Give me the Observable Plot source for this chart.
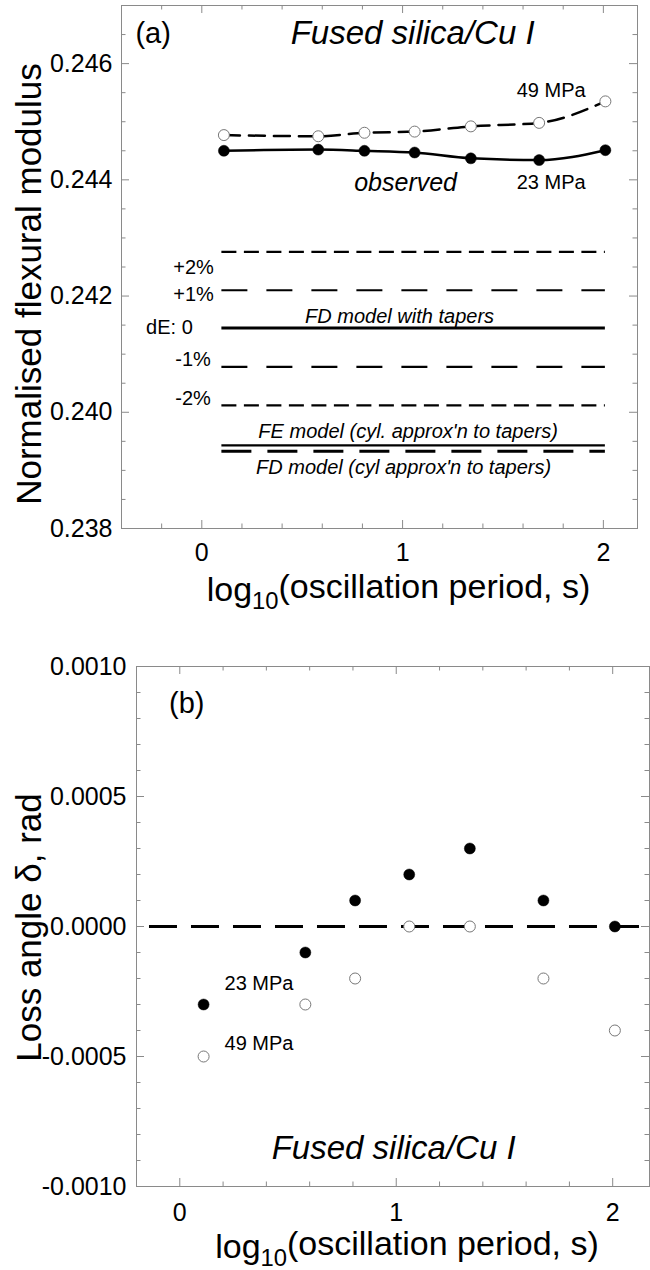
<!DOCTYPE html>
<html><head><meta charset="utf-8">
<script src="https://cdn.jsdelivr.net/npm/d3@7"></script>
<script src="https://cdn.jsdelivr.net/npm/@observablehq/plot@0.6"></script>
<style>
body{margin:0;background:#fff;}
#wrap{position:relative;width:650px;height:1270px;}
#a{position:absolute;left:0;top:0;}
#b{position:absolute;left:0;top:630px;}
</style></head><body><div id="wrap"><div id="a"></div><div id="b"></div></div>
<script>
// ---- data ----
const logPeriod = [0.11, 0.58, 0.81, 1.06, 1.34, 1.68, 2.01];
const modulus23 = [0.24450, 0.24452, 0.24450, 0.24447, 0.24437, 0.24434, 0.24451];
const modulus49 = [0.24477, 0.24475, 0.24481, 0.24483, 0.24492, 0.24498, 0.24535];
const modelNames = ["+2%", "+1%", "dE: 0", "-1%", "-2%", "FE model (cyl. approx'n to tapers)", "FD model (cyl approx'n to tapers)"];
const modelValues = [0.24276, 0.24210, 0.24145, 0.24078, 0.24012, 0.23943, 0.23933];
const modelRange = [0.10, 2.01];
const loss23 = [-0.0003, -0.0001, 0.0001, 0.0002, 0.0003, 0.0001, 0.0000];
const loss49 = [-0.0005, -0.0003, -0.0002, 0.0000, 0.0000, -0.0002, -0.0004];
const xTicks = [0, 1, 2];
const xMinorA = [-0.4, -0.2, 0.2, 0.4, 0.6, 0.8, 1.2, 1.4, 1.6, 1.8];
const xMinorB = [-0.2, 0.2, 0.4, 0.6, 0.8, 1.2, 1.4, 1.6, 1.8];
const yTicksA = [0.238, 0.240, 0.242, 0.244, 0.246];
const yMinorA = [0.2385, 0.239, 0.2395, 0.2405, 0.241, 0.2415, 0.2425, 0.243, 0.2435, 0.2445, 0.245, 0.2455, 0.2465];
const yTicksB = [-0.0010, -0.0005, 0.0000, 0.0005, 0.0010];
const yMinorB = [-0.0009, -0.0008, -0.0007, -0.0006, -0.0004, -0.0003, -0.0002, -0.0001, 0.0001, 0.0002, 0.0003, 0.0004, 0.0006, 0.0007, 0.0008, 0.0009];
const panelTitle = "Fused silica/Cu I";
const xTitle = "log10(oscillation period, s)";
const yTitleA = "Normalised flexural modulus";
const yTitleB = "Loss angle \u03b4, rad";

// ---- helpers ----
const FONT = '"Liberation Sans", Arial, Helvetica, sans-serif';
const GRAY = "#8a8a8a";
const W = 650;
function frameTicks(xMaj, xMin, yMaj, yMin, fw, fh) {
  const maj = 8, mn = 4.5, s = {stroke: GRAY, strokeWidth: 1};
  return [
    Plot.tickX(xMaj, {x: d => d, insetTop: fh - maj, ...s}),
    Plot.tickX(xMaj, {x: d => d, insetBottom: fh - maj, ...s}),
    Plot.tickX(xMin, {x: d => d, insetTop: fh - mn, ...s}),
    Plot.tickX(xMin, {x: d => d, insetBottom: fh - mn, ...s}),
    Plot.tickY(yMaj, {y: d => d, insetRight: fw - maj, ...s}),
    Plot.tickY(yMaj, {y: d => d, insetLeft: fw - maj, ...s}),
    Plot.tickY(yMin, {y: d => d, insetRight: fw - mn, ...s}),
    Plot.tickY(yMin, {y: d => d, insetLeft: fw - mn, ...s})
  ];
}
const pts = (ys) => logPeriod.map((x, i) => ({x, y: ys[i]}));
const models = modelNames.map((name, i) => ({name, value: modelValues[i]}));
const modelStyle = {
  "+2%": {strokeDasharray: "15,7.5", strokeWidth: 2.2},
  "+1%": {strokeDasharray: "26,19", strokeWidth: 2.2},
  "dE: 0": {strokeWidth: 3},
  "-1%": {strokeDasharray: "26,19", strokeWidth: 2.2},
  "-2%": {strokeDasharray: "15,7.5", strokeWidth: 2.2},
  "FE model (cyl. approx'n to tapers)": {strokeWidth: 2.4},
  "FD model (cyl approx'n to tapers)": {strokeDasharray: "30,16", strokeWidth: 3}
};
// where each dE label sits (data coordinates of its right end)
const dELabelAt = {
  "+2%": [0.06, 0.24249],
  "+1%": [0.06, 0.24202],
  "dE: 0": [-0.045, 0.24146],
  "-1%": [0.045, 0.24090],
  "-2%": [0.045, 0.24024]
};

// ---- panel (a) ----
const A = {H: 630, mt: 5, mb: 102, ml: 121, mr: 13};
const fwA = W - A.ml - A.mr, fhA = A.H - A.mt - A.mb;
const plotA = Plot.plot({
  width: W, height: A.H,
  marginTop: A.mt, marginBottom: A.mb, marginLeft: A.ml, marginRight: A.mr,
  style: {fontFamily: FONT, fontSize: "25px", color: "#000", background: "#fff"},
  x: {domain: [-0.4, 2.17], label: null},
  y: {domain: [0.238, 0.247], label: null},
  marks: [
    Plot.frame({stroke: GRAY}),
    ...frameTicks(xTicks, xMinorA, yTicksA, yMinorA, fwA, fhA),
    Plot.axisX(xTicks, {tickSize: 0, tickPadding: 15, fontSize: 25, tickFormat: d => String(d), label: null}),
    Plot.axisY(yTicksA, {tickSize: 0, tickPadding: 9, fontSize: 25, tickFormat: d => d.toFixed(3), label: null}),
    ...models.map(m => Plot.ruleY([m], {y: "value", x1: modelRange[0], x2: modelRange[1], stroke: "#000", ...modelStyle[m.name]})),
    Plot.line(pts(modulus49), {x: "x", y: "y", curve: "monotone-x", stroke: "#000", strokeWidth: 2.5, strokeDasharray: "16,9"}),
    Plot.line(pts(modulus23), {x: "x", y: "y", curve: "monotone-x", stroke: "#000", strokeWidth: 2.5}),
    Plot.dot(pts(modulus49), {x: "x", y: "y", r: 5.5, fill: "#fff", stroke: "#777", strokeWidth: 1}),
    Plot.dot(pts(modulus23), {x: "x", y: "y", r: 5.5, fill: "#000", stroke: "#000", strokeWidth: 0.5}),
    Plot.text(models.slice(0, 5), {x: d => dELabelAt[d.name][0], y: d => dELabelAt[d.name][1], text: "name",
      textAnchor: "end", lineAnchor: "middle", fontSize: 20}),
    Plot.text(["(a)"], {x: -0.2425, y: 0.24652, text: d => d, fontSize: 29, lineAnchor: "middle"}),
    Plot.text([panelTitle], {x: 1.05, y: 0.24652, text: d => d, fontSize: 33, fontStyle: "italic", lineAnchor: "middle"}),
    Plot.text(["49 MPa"], {x: 1.74, y: 0.24554, text: d => d, fontSize: 20, lineAnchor: "middle"}),
    Plot.text(["23 MPa"], {x: 1.74, y: 0.24395, text: d => d, fontSize: 20, lineAnchor: "middle"}),
    Plot.text(["observed"], {x: 1.015, y: 0.24395, text: d => d, fontSize: 25, fontStyle: "italic", lineAnchor: "middle"}),
    Plot.text(["FD model with tapers"], {x: 0.985, y: 0.24164, text: d => d, fontSize: 20, fontStyle: "italic", lineAnchor: "middle"}),
    Plot.text([models[5]], {x: 1.0275, y: 0.23967, text: "name", fontSize: 20, fontStyle: "italic", lineAnchor: "middle"}),
    Plot.text([models[6]], {x: 1.005, y: 0.23905, text: "name", fontSize: 20, fontStyle: "italic", lineAnchor: "middle"}),
    Plot.text([yTitleA], {frameAnchor: "left", rotate: -90, dx: -92, dy: 17, text: d => d, fontSize: 35, textAnchor: "middle", lineAnchor: "middle"}),
    Plot.text([xTitle], {frameAnchor: "bottom", dx: 19, dy: 62, text: d => d, fontSize: 34, textAnchor: "middle", lineAnchor: "middle"})
  ]
});

// ---- panel (b) ----
const B = {H: 640, mt: 36, mb: 84, ml: 136, mr: 1};
const fwB = W - B.ml - B.mr, fhB = B.H - B.mt - B.mb;
const plotB = Plot.plot({
  width: W, height: B.H,
  marginTop: B.mt, marginBottom: B.mb, marginLeft: B.ml, marginRight: B.mr,
  style: {fontFamily: FONT, fontSize: "25px", color: "#000", background: "#fff"},
  x: {domain: [-0.2, 2.17], label: null},
  y: {domain: [-0.001, 0.001], label: null},
  marks: [
    Plot.frame({stroke: GRAY}),
    ...frameTicks(xTicks, xMinorB, yTicksB, yMinorB, fwB, fhB),
    Plot.axisX(xTicks, {tickSize: 0, tickPadding: 17, fontSize: 25, tickFormat: d => String(d), label: null}),
    Plot.axisY(yTicksB, {tickSize: 0, tickPadding: 10, fontSize: 25, tickFormat: d => d.toFixed(4), label: null}),
    Plot.ruleY([0], {x1: -0.14, x2: 2.17, stroke: "#000", strokeWidth: 3, strokeDasharray: "28,14"}),
    Plot.dot(pts(loss49), {x: "x", y: "y", r: 5.5, fill: "#fff", stroke: "#777", strokeWidth: 1}),
    Plot.dot(pts(loss23), {x: "x", y: "y", r: 5.5, fill: "#000", stroke: "#000", strokeWidth: 0.5}),
    Plot.text(["(b)"], {x: 0.032, y: 0.000858, text: d => d, fontSize: 29, lineAnchor: "middle"}),
    Plot.text(["23 MPa"], {x: 0.366, y: -0.000219, text: d => d, fontSize: 20, lineAnchor: "middle"}),
    Plot.text(["49 MPa"], {x: 0.366, y: -0.00045, text: d => d, fontSize: 20, lineAnchor: "middle"}),
    Plot.text([panelTitle], {x: 0.988, y: -0.000854, text: d => d, fontSize: 33, fontStyle: "italic", lineAnchor: "middle"}),
    Plot.text([yTitleB], {frameAnchor: "left", rotate: -90, dx: -107, dy: 1, text: d => d, fontSize: 35, textAnchor: "middle", lineAnchor: "middle"}),
    Plot.text([xTitle], {frameAnchor: "bottom", dx: 14, dy: 61, text: d => d, fontSize: 34, textAnchor: "middle", lineAnchor: "middle"})
  ]
});

// subscript in x titles
function subscriptify(svg) {
  d3.select(svg).selectAll("text").each(function() {
    if (this.textContent === xTitle) {
      const t = d3.select(this);
      t.text(null);
      t.append("tspan").text("log");
      t.append("tspan").attr("font-size", "0.7em").attr("dy", "0.3em").text("10");
      t.append("tspan").attr("dy", "-0.3em").text("(oscillation period, s)");
    }
  });
}
subscriptify(plotA);
subscriptify(plotB);
document.getElementById("a").appendChild(plotA);
document.getElementById("b").appendChild(plotB);
</script>
</body></html>
